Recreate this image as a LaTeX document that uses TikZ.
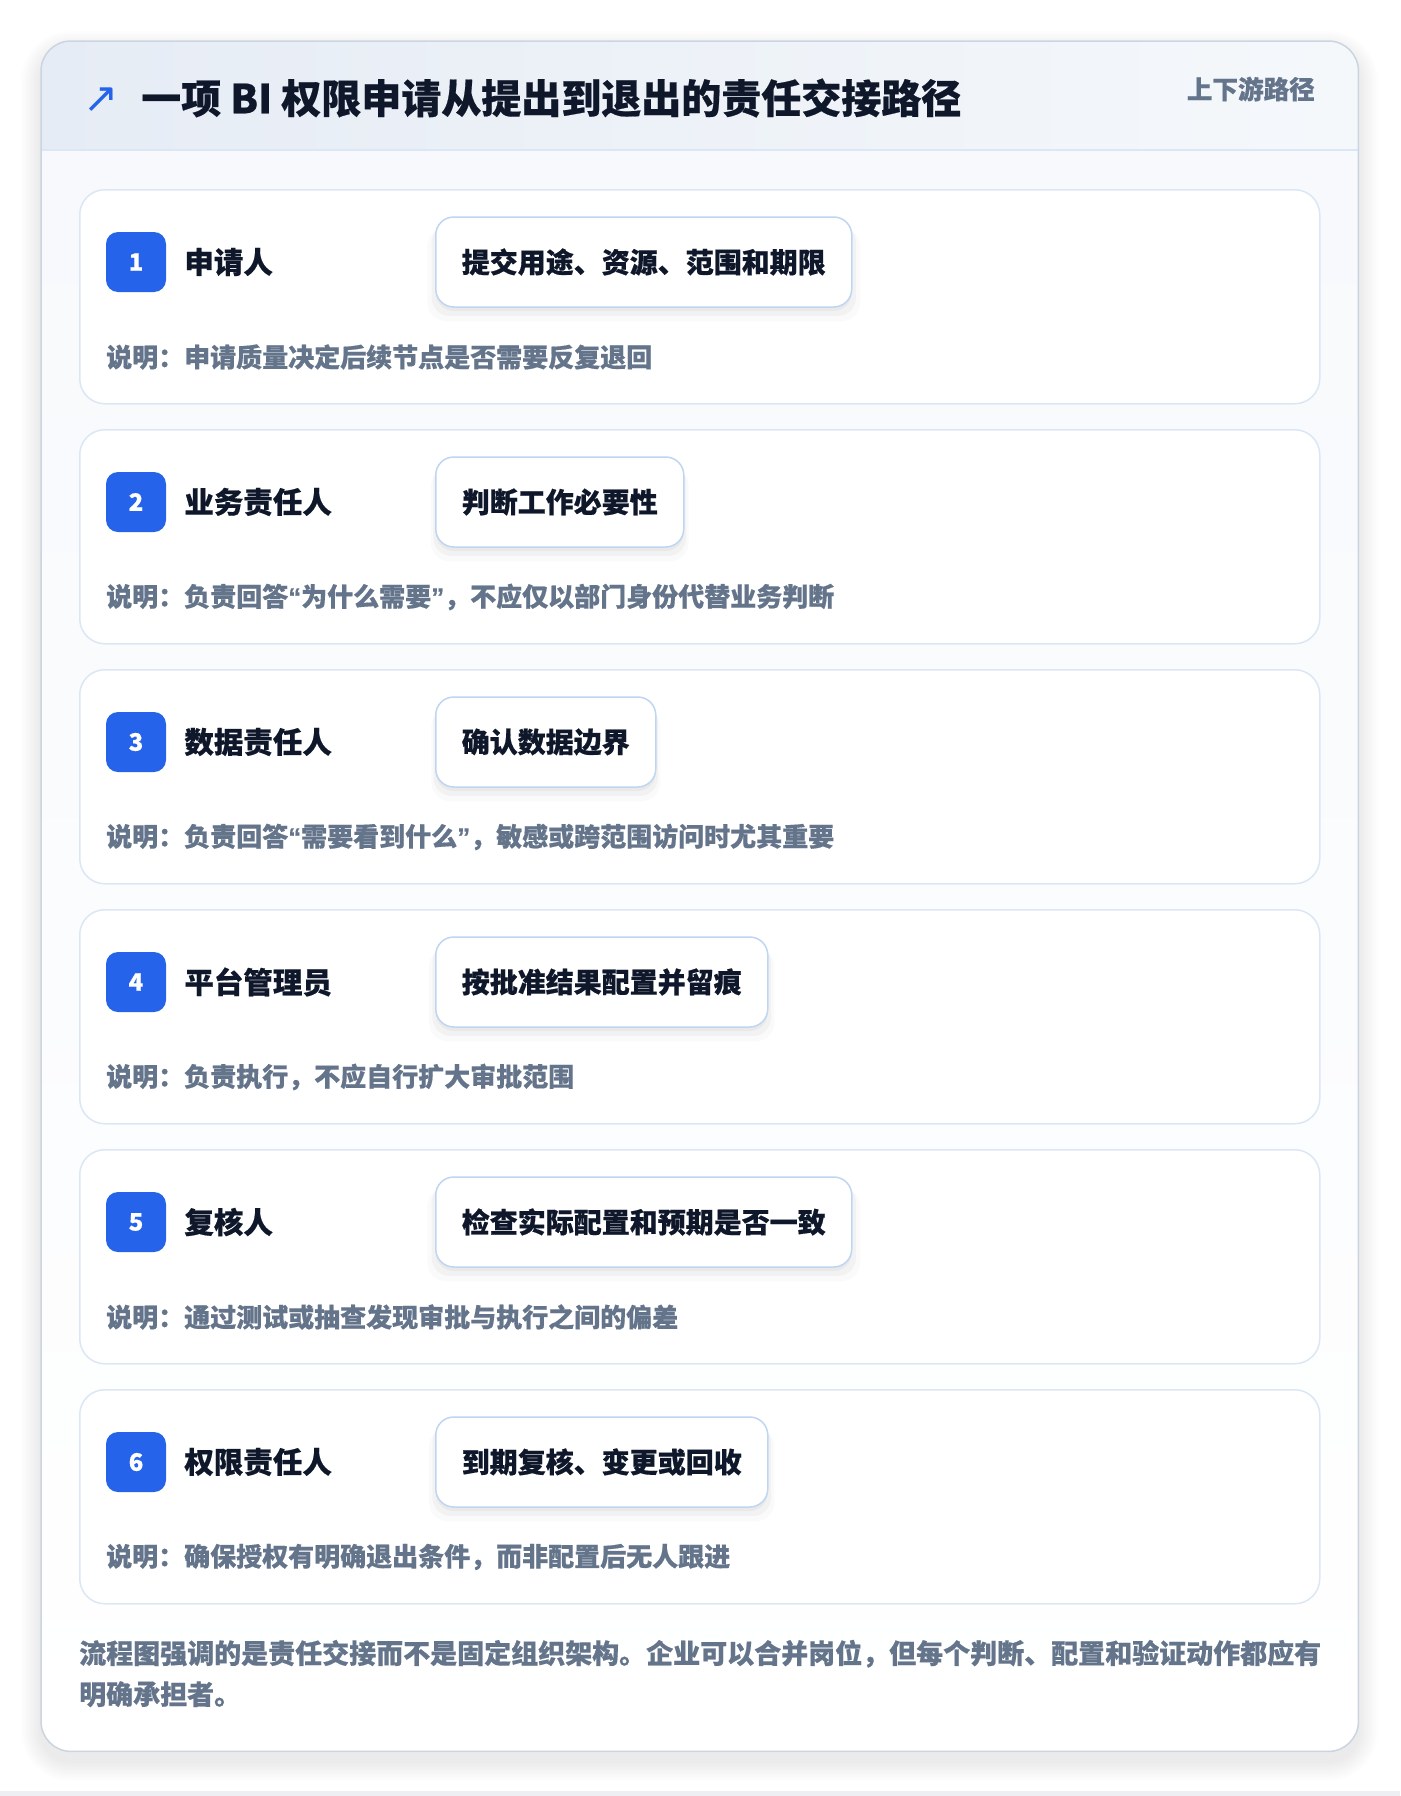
\documentclass[tikz,border=0pt]{standalone}
\usepackage{fontspec}
\setmainfont{Noto Sans CJK SC}[BoldFeatures={FakeBold=0.5}]
\newfontfamily\symfont{DejaVu Sans}
\newfontfamily\qfont{Liberation Sans}[BoldFeatures={FakeBold=0.5}]
\usepackage{xcolor}
\usetikzlibrary{positioning,shadows}

\definecolor{brandblue}{HTML}{2563EB}
\definecolor{inkdark}{HTML}{0F172A}
\definecolor{inkgray}{HTML}{64748B}
\definecolor{lineblue}{HTML}{DCE7F5}
\definecolor{boxline}{HTML}{BFD5F2}
\definecolor{cardline}{HTML}{CBD5E1}
\definecolor{headleft}{HTML}{E6ECF5}
\definecolor{headright}{HTML}{F5F8FB}
\definecolor{bodytop}{HTML}{F7F9FC}
\definecolor{pagestrip}{HTML}{EDEFF3}

\begin{document}
\begin{tikzpicture}[x=1pt,y=-1pt, line join=round, font=\bfseries]
	\useasboundingbox (0,0) rectangle (1400,1796);
	\fill[white] (0,0) rectangle (1400,1796);
	\fill[pagestrip] (0,1791) rectangle (1400,1796);
	
	% ===== styles =====
	\tikzset{
		outercard/.style={fill=white, rounded corners=30pt, inner sep=0pt,
			minimum width=1317pt, minimum height=1710pt},
		stepcard/.style={draw=lineblue, line width=1.5pt, fill=white, rounded corners=25pt,
			minimum width=1240pt, minimum height=214pt, inner sep=0pt},
		badge/.style={fill=brandblue, rounded corners=12pt, minimum size=60pt, inner sep=0pt,
			text=white, font=\bfseries\fontsize{24}{24}\selectfont},
		rolelabel/.style={inner sep=0pt, text=inkdark, font=\bfseries\fontsize{29.5}{32}\selectfont},
		softshadow/.style={
			drop shadow={shadow xshift=0pt, shadow yshift=-4pt, shadow scale=1.00, opacity=.035, fill=black},
			drop shadow={shadow xshift=0pt, shadow yshift=-8pt, shadow scale=1.02, opacity=.03, fill=black},
			drop shadow={shadow xshift=0pt, shadow yshift=-12pt, shadow scale=1.04, opacity=.02, fill=black}},
		actbox/.style={draw=boxline, line width=1.5pt, fill=white, rounded corners=18pt,
			minimum height=90pt, inner xsep=26pt, inner ysep=0pt,
			text=inkdark, font=\bfseries\fontsize{28}{30}\selectfont, softshadow},
		notetext/.style={inner sep=0pt, text=inkgray, font=\bfseries\fontsize{26}{28}\selectfont}
	}
	
	% ===== shadow + outer card =====
	\foreach \k in {1,...,10}{
		\fill[black, opacity=0.008, rounded corners=30pt+2*\k] (41-2*\k,41-2*\k+10) rectangle (1358+2*\k,1751+2*\k+10);
	}
	\node[outercard, anchor=north west] (card) at (41,41) {};
	\begin{scope}
		\clip[rounded corners=30pt] (41,41) rectangle (1358,1751);
		\shade[top color=bodytop, bottom color=white] (41,150) rectangle (1358,1751);
		\shade[left color=headleft, right color=headright] (41,41) rectangle (1358,150);
	\end{scope}
	\draw[lineblue, line width=1.5pt] (41,150) -- (1358,150);
	\draw[cardline, line width=1.5pt, rounded corners=30pt] (card.north west) rectangle (card.south east);
	
	% ===== header =====
	\node[text=brandblue, inner sep=0pt, font=\symfont\fontsize{42}{42}\selectfont] (icon) at (101,100) {↗};
	\node[anchor=west, inner sep=0pt, text=inkdark, font=\bfseries\fontsize{40}{44}\selectfont] (title) at (141,98)
		{一项 BI 权限申请从提出到退出的责任交接路径};
	\node[anchor=east, inner sep=0pt, text=inkgray, font=\bfseries\fontsize{25.6}{28}\selectfont] (tag) at (1315,89) {上下游路径};
	
	% ===== steps =====
	\foreach \n/\role/\act/\note in {
		1/{申请人}/{提交用途、资源、范围和期限}/{说明：申请质量决定后续节点是否需要反复退回},
		2/{业务责任人}/{判断工作必要性}/{说明：负责回答{\qfont “}为什么需要{\qfont ”}，不应仅以部门身份代替业务判断},
		3/{数据责任人}/{确认数据边界}/{说明：负责回答{\qfont “}需要看到什么{\qfont ”}，敏感或跨范围访问时尤其重要},
		4/{平台管理员}/{按批准结果配置并留痕}/{说明：负责执行，不应自行扩大审批范围},
		5/{复核人}/{检查实际配置和预期是否一致}/{说明：通过测试或抽查发现审批与执行之间的偏差},
		6/{权限责任人}/{到期复核、变更或回收}/{说明：确保授权有明确退出条件，而非配置后无人跟进}}{
		\pgfmathsetmacro\ty{189+240*(\n-1)}
		\node[stepcard, anchor=north west] (step\n) at (79,\ty) {};
		\node[badge] (badge\n) at (136,\ty+73) {\n};
		\node[rolelabel, right=18pt of badge\n] (role\n) {\role};
		\node[actbox, anchor=west] (act\n) at (435,\ty+73) {\act};
		\node[notetext, anchor=west] (note\n) at (106,\ty+168) {\note};
	}
	
	% ===== footer =====
	\node[anchor=west, align=left, inner sep=0pt, text=inkgray, font=\bfseries\fontsize{27}{41}\selectfont] (summary) at (79,1673.5)
		{流程图强调的是责任交接而不是固定组织架构。企业可以合并岗位，但每个判断、配置和验证动作都应有\\明确承担者。};
\end{tikzpicture}
\end{document}
